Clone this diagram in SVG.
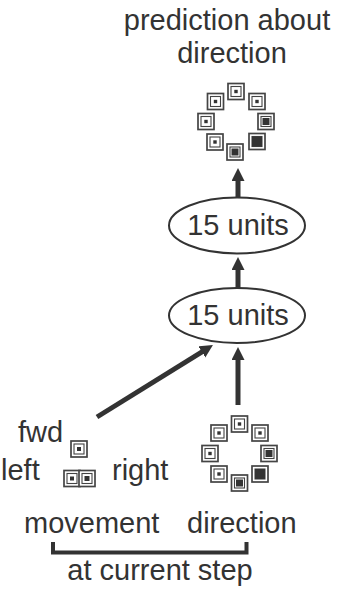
<svg xmlns="http://www.w3.org/2000/svg" width="339" height="591" viewBox="0 0 339 591">
  <style>
    text { font-family: "Liberation Sans", Arial, sans-serif; font-size: 29px; fill: #333; }
    .mid { text-anchor: middle; }
    .unit { fill: #fff; stroke: #333; stroke-width: 2; }
    .cell-o { fill: #fff; stroke: #444; stroke-width: 1.7; }
    .cell-i { fill: #fff; stroke: #444; stroke-width: 1.1; }
    .dot { fill: #333; }
    .arrow { stroke: #333; stroke-width: 5; fill: none; marker-end: url(#head); }
    .brace { stroke: #333; stroke-width: 4; fill: none; }
  </style>
  <defs>
    <marker id="head" markerUnits="userSpaceOnUse" markerWidth="14" markerHeight="14" refX="2" refY="6.5" orient="auto">
      <path d="M0,0 L13,6.5 L0,13 z" fill="#333"/>
    </marker>
    <!-- double-outlined cell, centred at the origin -->
    <g id="cell">
      <rect class="cell-o" x="-8" y="-8" width="16" height="16"/>
      <rect class="cell-i" x="-5" y="-5" width="10" height="10"/>
    </g>
  </defs>

  <rect width="339" height="591" fill="#fff"/>

  <!-- connectors -->
  <g id="connectors">
    <line class="arrow" x1="238" y1="198" x2="238" y2="179"/>
    <line class="arrow" x1="238" y1="288" x2="238" y2="268"/>
    <line class="arrow" x1="238" y1="405" x2="238" y2="358"/>
    <line class="arrow" x1="97" y1="417" x2="203.6" y2="350.8"/>
    <path class="brace" d="M53,542 V552.5 H246.5 V542"/>
  </g>

  <!-- output: predicted direction -->
  <g id="prediction">
    <text class="mid" x="227" y="30">prediction about</text>
    <text class="mid" x="232" y="63">direction</text>
    <g transform="translate(236,121.5)">
      <use href="#cell" x="0" y="-30"/><rect class="dot" x="-1.7" y="-31.7" width="3.4" height="3.4"/>
      <use href="#cell" x="-20.5" y="-20"/><rect class="dot" x="-22.2" y="-21.7" width="3.4" height="3.4"/>
      <use href="#cell" x="21" y="-20"/><rect class="dot" x="19.3" y="-21.7" width="3.4" height="3.4"/>
      <use href="#cell" x="-30" y="0"/><rect class="dot" x="-31.7" y="-1.7" width="3.4" height="3.4"/>
      <use href="#cell" x="30" y="0"/><rect class="dot" x="26.5" y="-3.5" width="7" height="7"/>
      <use href="#cell" x="-21" y="20.5"/><rect class="dot" x="-22.7" y="18.8" width="3.4" height="3.4"/>
      <use href="#cell" x="-1" y="30.5"/><rect class="dot" x="-4.5" y="27" width="7" height="7"/>
      <use href="#cell" x="21" y="20"/><rect x="16" y="15" width="10" height="10" fill="#333"/>
    </g>
  </g>

  <!-- hidden layer 2 -->
  <g id="layer2">
    <ellipse class="unit" cx="237" cy="225.5" rx="68" ry="28"/>
    <text class="mid" x="238" y="235">15 units</text>
  </g>

  <!-- hidden layer 1 -->
  <g id="layer1">
    <ellipse class="unit" cx="237" cy="315.5" rx="68" ry="27.5"/>
    <text class="mid" x="238" y="325">15 units</text>
  </g>

  <!-- input: movement at current step -->
  <g id="movement">
    <text x="18" y="442">fwd</text>
    <text x="1" y="480">left</text>
    <text x="112" y="480">right</text>
    <g transform="translate(79,449)">
      <use href="#cell"/><rect class="dot" x="-2" y="-2" width="4" height="4"/>
    </g>
    <g transform="translate(72,478.5)">
      <use href="#cell"/><rect class="dot" x="-2" y="-2" width="4" height="4"/>
    </g>
    <g transform="translate(87,478.5)">
      <use href="#cell"/><rect class="dot" x="-2.5" y="-2.5" width="5" height="5"/>
    </g>
    <text x="24" y="533">movement</text>
  </g>

  <!-- input: direction at current step -->
  <g id="direction">
    <g transform="translate(239.5,453.5)">
      <use href="#cell" x="0" y="-29.5"/><rect class="dot" x="-1.7" y="-31.2" width="3.4" height="3.4"/>
      <use href="#cell" x="-20.5" y="-20.5"/><rect class="dot" x="-22.2" y="-22.2" width="3.4" height="3.4"/>
      <use href="#cell" x="20.5" y="-20.5"/><rect class="dot" x="18.8" y="-22.2" width="3.4" height="3.4"/>
      <use href="#cell" x="-29.5" y="0"/><rect class="dot" x="-31.2" y="-1.7" width="3.4" height="3.4"/>
      <use href="#cell" x="29.5" y="0"/><rect class="dot" x="26" y="-3.5" width="7" height="7"/>
      <use href="#cell" x="-20.5" y="20.5"/><rect class="dot" x="-22.2" y="18.8" width="3.4" height="3.4"/>
      <use href="#cell" x="0" y="29.5"/><rect class="dot" x="-3.5" y="26" width="7" height="7"/>
      <use href="#cell" x="20.5" y="20.5"/><rect x="15.5" y="15.5" width="10" height="10" fill="#333"/>
    </g>
    <text x="187" y="533">direction</text>
  </g>

  <text class="mid" x="160" y="580">at current step</text>
</svg>
